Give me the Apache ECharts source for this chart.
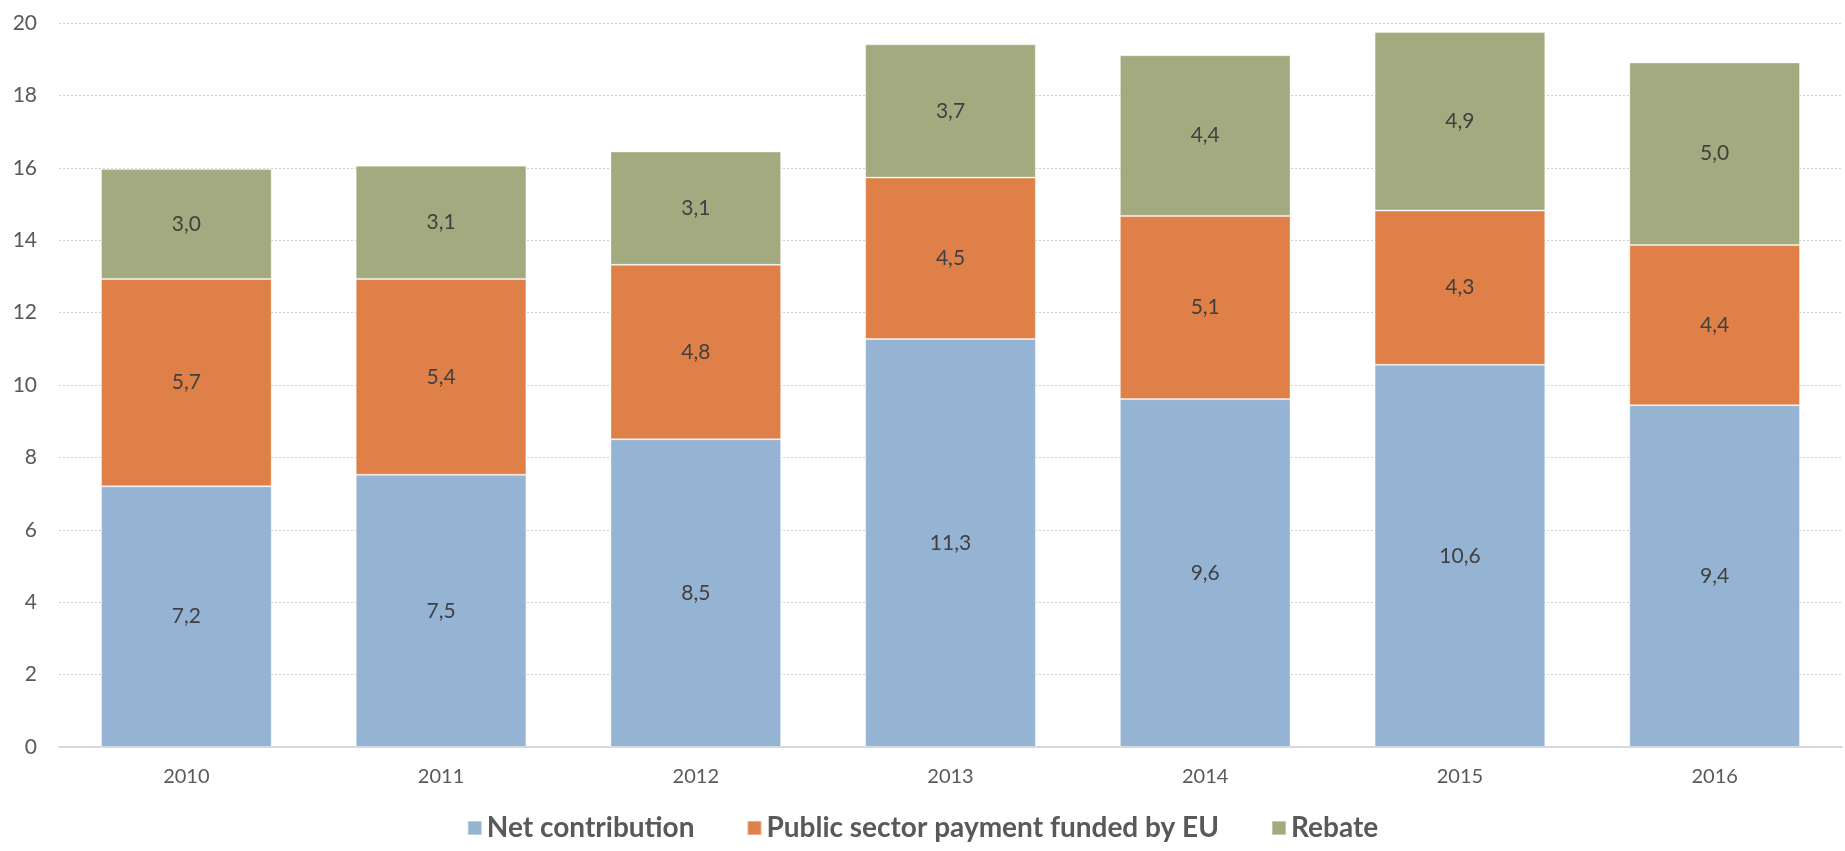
<!DOCTYPE html>
<html>
<head>
<meta charset="utf-8">
<script src="https://cdn.jsdelivr.net/npm/echarts@6/dist/echarts.min.js"></script>
<style>
html,body{margin:0;padding:0;background:#fff;}
#chart{width:1845px;height:851px;}
</style>
</head>
<body>
<div id="chart"></div>
<script>
const categories = ['2010','2011','2012','2013','2014','2015','2016'];
const netContribution = [7.20, 7.52, 8.50, 11.27, 9.61, 10.56, 9.44];
const publicSector = [5.73, 5.41, 4.82, 4.46, 5.06, 4.26, 4.43];
const rebate = [3.04, 3.13, 3.13, 3.68, 4.44, 4.93, 5.04];
const seriesNames = ['Net contribution', 'Public sector payment funded by EU', 'Rebate'];
const colors = ['#95B3D3', '#DF8049', '#A4AA7F'];

const FONT = 'Lato, "Noto Sans", sans-serif';
const chart = echarts.init(document.getElementById('chart'));

function mk(name, data, color) {
  return {
    name: name,
    type: 'bar',
    stack: 'total',
    data: data,
    barWidth: '67%',
    itemStyle: { color: color, borderColor: 'rgba(255,255,255,0.35)', borderWidth: 1 },
    label: {
      show: true,
      position: 'inside',
      color: '#404040',
      fontFamily: FONT,
      fontSize: 21,
      formatter: p => p.value.toFixed(1).replace('.', ',')
    },
    emphasis: { disabled: true }
  };
}

chart.setOption({
  animation: false,
  color: colors,
  grid: { left: 59, right: 3, top: 23, bottom: 104, containLabel: false },
  legend: {
    data: seriesNames,
    bottom: 4,
    left: 'center',
    icon: 'rect',
    itemWidth: 14,
    itemHeight: 14,
    itemGap: 52,
    textStyle: { fontFamily: FONT, fontWeight: 'bold', fontSize: 28, color: '#595959' }
  },
  xAxis: {
    type: 'category',
    data: categories,
    axisLine: { show: true, lineStyle: { color: '#D9D9D9', width: 2 } },
    axisTick: { show: false },
    axisLabel: { color: '#595959', fontFamily: FONT, fontSize: 20, margin: 20 }
  },
  yAxis: {
    type: 'value',
    min: 0,
    max: 20,
    interval: 2,
    axisLine: { show: false },
    axisTick: { show: false },
    axisLabel: { color: '#595959', fontFamily: FONT, fontSize: 21, margin: 22 },
    splitLine: { show: true, lineStyle: { color: '#D0D0D0', type: [2, 2], width: 1 } }
  },
  series: [
    mk(seriesNames[0], netContribution, colors[0]),
    mk(seriesNames[1], publicSector, colors[1]),
    mk(seriesNames[2], rebate, colors[2])
  ]
});
</script>
</body>
</html>
